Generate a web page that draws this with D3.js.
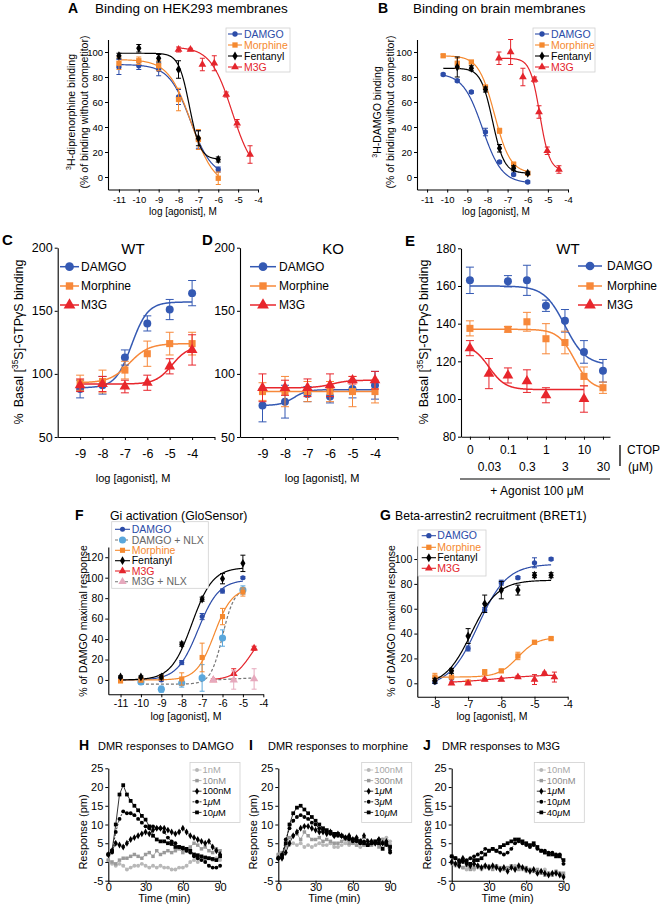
<!DOCTYPE html>
<html>
<head>
<meta charset="utf-8">
<script src="https://cdn.jsdelivr.net/npm/d3@7"></script>
<style>
  body { margin: 0; background: #fff; }
  svg { display: block; font-family: "Liberation Sans", Arial, Helvetica, sans-serif; }
</style>
</head>
<body>
<svg id="fig" width="660" height="906"></svg>
<script>
// colours
const blue = '#2c4ca8', orange = '#f5892f', red = '#e4252c', black = '#000';
const lightBlue = '#5aa7dc', pink = '#e6a9bd', nlxGrey = '#777';

// ---- A: binding on HEK293 membranes ----
const aNames = ['DAMGO', 'Morphine', 'Fentanyl', 'M3G'];
const aX = [[-11, -10, -9, -8, -7, -6], [-11, -10, -9, -8, -7, -6], [-11, -10, -9, -8, -7, -6], [-8, -7.4, -6.8, -6.2, -5.6, -5.05, -4.4]];
const aY = [[88, 89, 86, 64, 30, 6], [91, 93, 89, 62, 30, -1], [97, 103, 95, 86, 31, 14], [102, 102, 90, 91, 66, 43, 18]];
const aErr = [[6, 3, 5, 6, 7, 2], [5, 3, 4, 9, 8, 5], [2, 3, 3, 7, 6, 2], [2, 1, 5, 6, 2, 3, 7]];
// bottom, top, logEC50, hill, from, to
const aFit = [[0, 90, -7.4, -0.8, -11, -6], [-8, 94, -7.35, -0.75, -11, -6], [14, 99, -7.45, -1.6, -11, -6], [0, 104, -5.3, -0.8, -8, -4.4]];

// ---- B: binding on brain membranes ----
const bX = [[-10.2, -9.5, -8.8, -8.1, -7.4, -6.7, -6], [-10.2, -9.5, -8.8, -8.1, -7.4, -6.7, -6], [-9.5, -8.8, -8.1, -7.4, -6.7, -6], [-7.43, -6.85, -6.24, -5.66, -5.44, -5.03, -4.45]];
const bY = [[82, 77, 68, 36, 12, 2, -4], [97, 91, 92, 72, 37, 10, 3], [88, 87, 70, 23, 7, 3], [95, 100, 80, 78, 52, 21, 6]];
const bErr = [[1, 1, 1, 3, 1, 1, 1], [1, 4, 1, 1, 2, 2, 1], [8, 2, 2, 3, 2, 1], [5, 10, 7, 2, 5, 3, 3]];
const bFit = [[-5, 83, -8.25, -0.9, -10.2, -6], [3, 97, -7.65, -1.1, -10.2, -6], [3, 87, -7.75, -1.5, -10.2, -6], [5, 95, -5.4, -1.8, -7.43, -4.45]];

// ---- C / D: [35S]-GTPgS, WT and KO ----
const cdNames = ['DAMGO', 'Morphine', 'M3G'];
const cdDoses = [-9, -8, -7, -6, -5, -4];
const cY = [[88, 91, 113, 140, 151, 164], [93, 94, 103, 116, 124, 124], [91, 92, 90, 93, 106, 119]];
const cErr = [[7, 7, 6, 6, 8, 10], [6, 9, 7, 10, 9, 9], [5, 6, 5, 6, 6, 12]];
const cFit = [[89, 157, -6.7, 1.2, -9, -4], [93, 124, -6.8, 1.0, -9, -4], [92, 122, -4.9, 1.2, -9, -4]];
const dY = [[75, 78, 84, 82, 88, 91], [86, 86, 86, 86, 86, 86], [89, 89, 89, 91, 95, 95]];
const dErr = [[13, 13, 6, 5, 7, 11], [7, 12, 8, 8, 12, 9], [11, 6, 7, 9, 3, 7]];
const dFit = [[75, 87.5, -7.6, 1.5, -9, -4], [86, 86, -6, 1, -9, -4], [89, 95, -5.9, 1.2, -9, -4]];

// ---- E: CTOP reversal (x = index of CTOP concentration) ----
const eCtop = ['0', '0.03', '0.1', '0.3', '1', '3', '10', '30'];
const eX = [[0, 2, 3, 4, 5, 6, 7], [0, 2, 3, 4, 5, 6, 7], [0, 1, 2, 3, 4, 6]];
const eY = [[163, 162.5, 163, 149.5, 141.5, 125, 115], [137.5, 137, 141, 132, 130, 112, 106], [127, 113.5, 112.5, 109.5, 102, 100]];
const eErr = [[7, 3, 8, 3, 6, 6, 6], [4, 1.5, 5, 8, 6, 5, 3], [4, 8, 4, 6, 4, 7]];
const eFit = [[118, 160, 5.0, -0.8, 0, 7], [105, 137, 5.5, -1, 0, 7], [105, 129, 1.0, -1, 0, 6]];

// ---- F: Gi activation (GloSensor) ----
const fNames = ['DAMGO', 'DAMGO + NLX', 'Morphine', 'Fentanyl', 'M3G', 'M3G + NLX'];
const fX = [[-11, -10, -9, -8, -7, -6, -5], [-10, -9, -8, -7, -6, -5], [-11, -10, -9, -8, -7, -6, -5], [-11, -10, -9, -8, -7, -6, -5], [-6.45, -5.45, -4.45], [-6.45, -5.45, -4.45]];
const fY = [[1, -1, 0, 17, 62, 87, 100], [-2, -9, -3, 2, 41, 88], [-1, 0, 2, 1, 22, 62, 86], [3, 3, 3, 35, 79, 99, 114], [0, 6, 31], [0, 0, 1]];
const fErr = [[1, 2, 1, 2, 3, 2, 1], [2, 3, 4, 13, 8, 4], [1, 2, 2, 6, 14, 8, 4], [1, 1, 2, 2, 2, 5, 8], [1, 5, 2], [1, 9, 10]];
const fFit = [[0, 98, -7.2, 0.85, -11, -5], [-4, 90, -6.0, 1.5, -10, -5], [0, 90, -6.4, 1, -11, -5], [0, 110, -7.5, 0.85, -11, -5], [0, 50, -4.6, 1, -6.45, -4.45], [0, 2, -5.5, 1, -6.45, -4.45]];

// ---- G: beta-arrestin2 recruitment (BRET1) ----
const gX = [[-8, -7.5, -7, -6.5, -6, -5.5, -5, -4.5], [-8, -7.5, -7, -6.5, -6, -5.5, -5, -4.5], [-8, -7.5, -7, -6.5, -6, -5.5, -5, -4.5], [-7.5, -7, -6.5, -6, -5.5, -5, -4.7, -4.4]];
const gY = [[1, 4, 28, 59, 81, 85, 97, 100], [5, 5, 1, 9, 10, 22, 33, 36], [2, 10, 38, 64, 75, 75, 87, 87], [0, 0, 3, 3, 5, 3, 8, 5]];
const gErr = [[1, 1, 2, 2, 2, 1, 4, 1], [3, 1, 1, 2, 1, 3, 1, 1], [2, 2, 6, 7, 7, 4, 2, 2], [1, 1, 1, 1, 1, 4, 1, 4]];
const gFit = [[-3, 96, -6.7, 1.0, -8, -4.5], [5, 37, -5.5, 1.5, -8, -4.5], [-2, 83, -6.9, 1.1, -8, -4.5], [0, 7, -6.2, 0.6, -7.5, -4.4]];

// ---- H / I / J: DMR time courses ----
const dmrTime = [0, 3, 6, 9, 12, 15, 18, 21, 24, 27, 30, 33, 36, 39, 42, 45, 48, 51, 54, 57, 60, 63, 66, 69, 72, 75, 78, 81, 84, 87, 90];
const hNames = ['1nM', '10nM', '100nM', '1μM', '10μM'];
const h1nM = [0.5, -0.5, -1, -0.5, -1, -2, -1.5, -1, -1, -0.5, -1, -1.5, -1, -1.5, -1, -1.5, -1.5, -2, -2, -1.5, -1.5, -1, 0, 0.5, 0, 1, 0.5, 1, 0.5, 1, 0.5];
const h10nM = [0.5, 0, -0.5, 0.5, 1, 1, 1.5, 2, 1.5, 1, 2, 2.5, 1.5, 3, 2, 2.5, 3, 2.5, 3, 3.5, 2.5, 3, 4, 5, 4.5, 3.5, 4, 3, 2.5, 3.5, 3];
const h100nM = [2, 3, 5, 4.5, 4, 5, 6, 6.5, 7, 7.5, 8, 7.5, 8.5, 9, 9, 9, 8.5, 8, 7.5, 8, 9, 8, 7, 6.5, 6, 5.5, 5, 5.5, 4, 3, 2];
const h1uM = [2, 2.5, 8, 11.5, 13.5, 13, 13, 12.5, 11.5, 10.5, 9.5, 9, 9.5, 9, 9, 8, 6.5, 5.5, 5, 4, 3.5, 3, 2.5, 1.5, 1, 0.5, 0, -1, -1.5, -1.5, -1];
const h10uM = [2, 3, 10, 18, 20.5, 18, 16.3, 15, 13.8, 12.3, 11.3, 9.5, 7, 6, 5.5, 5.5, 5, 4.8, 4, 4, 3.8, 3.5, 3, 2, 1.8, 1.5, 1.2, 1, 0.8, 0.5, 1.5];
const iNames = ['100nM', '300nM', '1μM', '3μM', '10μM'];
const i100nM = [2, 2, 4, 4.5, 5, 4.5, 5, 4, 4.5, 4, 4.5, 5, 4.5, 4.5, 5, 4, 4, 4.5, 5, 4.5, 5, 4.5, 4, 4.5, 5, 4.5, 5, 5.5, 6, 6.5, 5.5];
const i300nM = [2, 2.5, 4.5, 6.5, 7, 7.5, 6, 8, 7, 6, 6, 6.5, 5.5, 6, 5.5, 5, 5, 5.5, 6, 5, 5, 4.5, 5, 4.5, 5, 4.5, 5.5, 4, 6, 5, 4.5];
const i1uM = [1, 1, 2.5, 5, 7, 8, 9, 9.5, 9.5, 9, 8.5, 8, 8, 7.5, 8, 7, 7.5, 7, 6.5, 7, 6, 6.5, 5.5, 7, 5.5, 5.5, 5, 6, 5, 5.5, 3];
const i3uM = [1, 2, 6, 9, 11, 12, 12.5, 12, 11.5, 10.5, 10, 9, 8.5, 8, 7.5, 7, 7, 7, 6.5, 6, 5.5, 5.5, 5, 5.5, 4.5, 5, 5, 6, 5, 4.5, 2.5];
const i10uM = [1, 1.5, 5, 10, 13, 14.5, 15, 14, 13, 12, 11, 10, 9, 8.5, 8, 7.5, 7.5, 7, 6.5, 6.5, 6, 6, 5.5, 5, 4.5, 5, 5.5, 5, 3.5, 5, 4];
const jNames = ['10nM', '100nM', '1μM', '10μM', '40μM'];
const j10nM = [-0.5, -1, -1, -1.5, -2, -1.5, -2, -1.5, -2, -1.5, -1, -1.5, -1, -2, -1.5, -2, -1.5, -1, -1.5, -2, -2.5, -2, -2.5, -3, -2.5, -2, -3, -3.5, -2.5, -3, -3.5];
const j100nM = [0, -0.5, -1, -1.5, -1, -2, -1.5, -1, -1.5, -1, -1.5, -2, -1, -1.5, -2, -1.5, -1, -1.5, -2, -1.5, -1.5, -2, -2.5, -2, -3, -3.5, -3, -3.5, -2.5, -3, -3];
const j1uM = [0, -0.5, -1, 1, -0.5, -1, -0.5, -1, -1.5, -1, -1.5, -1, -1.5, -2, -1.5, -2.5, -1.5, -2, -1, -1.5, -2, -2.5, -2, -3, -2.5, -3, -3.5, -3, -3, -3.5, -4];
const j10uM = [1.5, 1, 0.5, 0, 0.5, 1, 1.5, 2, 2.5, 3.5, 3, 3.5, 3, 2.5, 2, 2.5, 3.5, 5, 5.5, 5, 4.5, 4, 4.5, 3.5, 3, 3, 2.5, 2.5, 2, 2, -0.5];
const j40uM = [1.5, 1, 0, 0.5, 0, -0.5, 0.5, 0.5, 1, 2, 3, 3.5, 3, 4, 4.5, 5, 5.5, 6, 6, 5.5, 5, 4.5, 5, 4, 3, 2.5, 2, 2, 1.5, 1.5, 0.5];

const svg = d3.select('#fig');
const symType = { circle: d3.symbolCircle, square: d3.symbolSquare, diamond: d3.symbolDiamond, triangle: d3.symbolTriangle };

function logistic(p, x) {
  return p[0] + (p[1] - p[0]) / (1 + Math.pow(10, (p[2] - x) * p[3]));
}

function txt(x, y, s, o = {}) {
  const t = svg.append('text').attr('x', x).attr('y', y)
    .attr('font-size', o.fs || 11).attr('fill', o.fill || '#000')
    .attr('text-anchor', o.anchor || 'start');
  if (o.bold) t.attr('font-weight', 'bold');
  if (o.rot) t.attr('transform', `rotate(-90,${x},${y})`);
  if (s) t.text(s);
  return t;
}

function axes(x, y, o) {
  const gx = svg.append('g').attr('transform', `translate(0,${y.range()[0]})`)
    .call(d3.axisBottom(x).tickValues(o.xt).tickFormat(o.xf || String)
      .tickSize(3).tickSizeOuter(0).tickPadding(o.xp ?? 3));
  const gy = svg.append('g').attr('transform', `translate(${x.range()[0]},0)`)
    .call(d3.axisLeft(y).tickValues(o.yt).tickFormat(String)
      .tickSize(3).tickSizeOuter(0).tickPadding(2));
  for (const g of [gx, gy]) {
    g.attr('font-family', null).attr('font-size', o.fs);
    g.select('.domain').attr('stroke-width', 1.1);
  }
  return gx;
}

function doses(x, y, o) {
  o.fits.forEach((p, i) => {
    const xs = d3.range(p[4], p[5], 0.02).concat([p[5]]);
    svg.append('path').datum(xs)
      .attr('fill', 'none').attr('stroke', o.fitCol ? o.fitCol[i] : o.col[i])
      .attr('stroke-width', o.lw)
      .attr('stroke-dasharray', o.dash && o.dash[i] ? o.dash[i] : null)
      .attr('d', d3.line().x(v => x(v)).y(v => y(logistic(p, v))));
  });
  o.xs.forEach((xsI, i) => {
    const g = svg.append('g').attr('stroke', o.col[i]);
    xsI.forEach((xv, j) => {
      const cx = x(xv), m = o.ys[i][j], e = o.err[i][j], c = o.cap;
      const t = y(m + e), b = y(m - e);
      g.append('path').attr('fill', 'none').attr('stroke-width', 1)
        .attr('d', `M${cx},${t}V${b}M${cx - c},${t}H${cx + c}M${cx - c},${b}H${cx + c}`);
    });
    g.selectAll('.pt').data(xsI).join('path').attr('class', 'pt')
      .attr('stroke', 'none').attr('fill', o.col[i])
      .attr('transform', (d, j) => `translate(${x(d)},${y(o.ys[i][j])})`)
      .attr('d', d3.symbol(symType[o.shape[i]], o.size[i]));
  });
}

function legend(o) {
  if (o.box) {
    svg.append('rect').attr('x', o.box[0]).attr('y', o.box[1])
      .attr('width', o.box[2]).attr('height', o.box[3])
      .attr('fill', '#fff').attr('stroke', '#d0d0d0').attr('stroke-width', 0.8);
  }
  o.names.forEach((n, i) => {
    const yy = o.ys[i];
    svg.append('line').attr('x1', o.x0).attr('x2', o.x1).attr('y1', yy).attr('y2', yy)
      .attr('stroke', o.lineCol[i]).attr('stroke-width', o.lw)
      .attr('stroke-dasharray', o.dash && o.dash[i] ? o.dash[i] : null);
    svg.append('path').attr('transform', `translate(${(o.x0 + o.x1) / 2},${yy})`)
      .attr('d', d3.symbol(symType[o.shape[i]], o.size[i])).attr('fill', o.col[i]);
    const t = svg.append('text').attr('x', o.xt).attr('y', yy).attr('dy', '0.35em')
      .attr('font-size', o.fs).attr('fill', o.txtCol[i]);
    n.split('μ').forEach((part, k) => {
      if (k) t.append('tspan').attr('font-style', 'italic').text('μ');
      t.append('tspan').text(part);
    });
  });
}

function gtpLabel(x, y) {
  const t = txt(x, y, null, { fs: 12.5, anchor: 'middle', rot: true });
  t.append('tspan').text('%');
  t.append('tspan').attr('dx', 6).text('Basal [');
  t.append('tspan').attr('font-size', 8.5).attr('dy', -5).text('35');
  t.append('tspan').attr('dy', 5).text('S]-GTPγS binding');
}

const dr4Col = [blue, orange, black, red];
const dr4Shape = ['circle', 'square', 'diamond', 'triangle'];
const dr4Size = [22, 28, 24, 26];

// ================= A =================
const xA = d3.scaleLinear().domain([-11.55, -4]).range([108, 258]);
const yA = d3.scaleLinear().domain([-10, 110]).range([189.5, 39.5]);
axes(xA, yA, { xt: [-11, -10, -9, -8, -7, -6, -5, -4], yt: [0, 20, 40, 60, 80, 100], fs: 9.5, xp: 4 });
doses(xA, yA, { xs: aX, ys: aY, err: aErr, fits: aFit, col: dr4Col, shape: dr4Shape, size: dr4Size, lw: 1.2, cap: 2.5 });
legend({ box: [226, 28, 64, 44], names: aNames, ys: [34, 45, 56, 67], x0: 228, x1: 242, xt: 244, fs: 10.5,
  lineCol: dr4Col, col: dr4Col, txtCol: dr4Col, shape: dr4Shape, size: dr4Size, lw: 1.1 });
txt(68, 13, 'A', { fs: 14, bold: true });
txt(95, 13, 'Binding on HEK293 membranes', { fs: 13.5 });
txt(183, 215, 'log [agonist], M', { fs: 10, anchor: 'middle' });
{
  const t = txt(75, 112, null, { fs: 10.5, anchor: 'middle', rot: true });
  t.append('tspan').attr('font-size', 7).attr('dy', -4).text('3');
  t.append('tspan').attr('dy', 4).text('H-diprenorphine binding');
  txt(88, 112, '(% of binding without competitor)', { fs: 10.5, anchor: 'middle', rot: true });
}

// ================= B =================
const xB = d3.scaleLinear().domain([-11.5, -4]).range([417, 568]);
const yB = d3.scaleLinear().domain([-10, 110]).range([189.5, 39.5]);
axes(xB, yB, { xt: [-11, -10, -9, -8, -7, -6, -5, -4], yt: [0, 20, 40, 60, 80, 100], fs: 9.5, xp: 4 });
doses(xB, yB, { xs: bX, ys: bY, err: bErr, fits: bFit, col: dr4Col, shape: dr4Shape, size: dr4Size, lw: 1.2, cap: 2.5 });
legend({ box: [533, 28, 62, 44], names: aNames, ys: [34, 45, 56, 67], x0: 535, x1: 549, xt: 551, fs: 10.5,
  lineCol: dr4Col, col: dr4Col, txtCol: dr4Col, shape: dr4Shape, size: dr4Size, lw: 1.1 });
txt(378, 13, 'B', { fs: 14, bold: true });
txt(413, 13, 'Binding on brain membranes', { fs: 13.5 });
txt(496, 215, 'log [agonist], M', { fs: 10, anchor: 'middle' });
{
  const t = txt(381, 112, null, { fs: 10.5, anchor: 'middle', rot: true });
  t.append('tspan').attr('font-size', 7).attr('dy', -4).text('3');
  t.append('tspan').attr('dy', 4).text('H-DAMGO binding');
  txt(394, 112, '(% of binding without competitor)', { fs: 10.5, anchor: 'middle', rot: true });
}

// ================= C / D =================
const cdCol = ['#3459b3', '#f7883a', '#e8262c'];
const cdShape = ['circle', 'square', 'triangle'];
const cdSize = [50, 50, 50];
const cdTicks = [-9, -8, -7, -6, -5, -4, -3];
const cdFmt = d => (d === -3 ? '' : String(d));

const xC = d3.scaleLinear().domain([-10, -3]).range([57.7, 214.5]);
const yC = d3.scaleLinear().domain([50, 200]).range([437, 247.7]);
axes(xC, yC, { xt: cdTicks, xf: cdFmt, yt: [50, 100, 150, 200], fs: 12.5, xp: 9 });
doses(xC, yC, { xs: cdNames.map(() => cdDoses), ys: cY, err: cErr, fits: cFit, col: cdCol, shape: cdShape, size: cdSize, lw: 1.5, cap: 4 });
legend({ names: cdNames, ys: [266.7, 286, 305], x0: 60, x1: 79, xt: 81, fs: 12,
  lineCol: cdCol, col: cdCol, txtCol: [black, black, black], shape: cdShape, size: [60, 55, 60], lw: 1.5 });
txt(2, 245, 'C', { fs: 15, bold: true });
txt(133, 254, 'WT', { fs: 15, anchor: 'middle' });
txt(133, 482, 'log [agonist], M', { fs: 11, anchor: 'middle' });
gtpLabel(23, 342);

const xD = d3.scaleLinear().domain([-10, -3]).range([240, 397.5]);
const yD = d3.scaleLinear().domain([50, 200]).range([437, 247.7]);
axes(xD, yD, { xt: cdTicks, xf: cdFmt, yt: [50, 100, 150, 200], fs: 12.5, xp: 9 });
doses(xD, yD, { xs: cdNames.map(() => cdDoses), ys: dY, err: dErr, fits: dFit, col: cdCol, shape: cdShape, size: cdSize, lw: 1.5, cap: 4 });
legend({ names: cdNames, ys: [266.7, 286, 305], x0: 250, x1: 276, xt: 279, fs: 12,
  lineCol: cdCol, col: cdCol, txtCol: [black, black, black], shape: cdShape, size: [60, 55, 60], lw: 1.5 });
txt(202, 245, 'D', { fs: 15, bold: true });
txt(333, 254, 'KO', { fs: 15, anchor: 'middle' });
txt(322, 482, 'log [agonist], M', { fs: 11, anchor: 'middle' });

// ================= E =================
const xE = d3.scaleLinear().domain([-0.47, 7.37]).range([461, 610]);
const yE = d3.scaleLinear().domain([80, 180]).range([436.7, 248.3]);
const gxE = axes(xE, yE, { xt: d3.range(eCtop.length), xf: i => eCtop[i], yt: [80, 100, 120, 140, 160, 180], fs: 12, xp: 6 });
gxE.selectAll('.tick text').attr('y', (d, i) => (i % 2 ? 26 : 9));
doses(xE, yE, { xs: eX, ys: eY, err: eErr, fits: eFit, col: cdCol, shape: cdShape, size: cdSize, lw: 1.5, cap: 4 });
legend({ names: cdNames, ys: [266, 286, 305], x0: 578, x1: 602, xt: 607, fs: 12,
  lineCol: cdCol, col: cdCol, txtCol: [black, black, black], shape: cdShape, size: [60, 55, 60], lw: 1.5 });
txt(405, 246, 'E', { fs: 15, bold: true });
txt(568, 254, 'WT', { fs: 15, anchor: 'middle' });
gtpLabel(428, 342);
svg.append('line').attr('x1', 620).attr('x2', 620).attr('y1', 445).attr('y2', 466).attr('stroke', '#000').attr('stroke-width', 1.3);
txt(627, 454, 'CTOP', { fs: 12 });
txt(628, 471, '(μM)', { fs: 12 });
svg.append('line').attr('x1', 460).attr('x2', 610).attr('y1', 479).attr('y2', 479).attr('stroke', '#000').attr('stroke-width', 1.2);
txt(537, 495, '+ Agonist 100 μM', { fs: 12, anchor: 'middle' });

// ================= F =================
const fCol = [blue, lightBlue, orange, black, red, pink];
const fShape = ['circle', 'circle', 'square', 'diamond', 'triangle', 'triangle'];
const fSize = [20, 40, 26, 22, 26, 30];
const fFitCol = [blue, nlxGrey, orange, black, red, nlxGrey];
const fDash = [null, '3,2', null, null, null, '3,2'];
const xF = d3.scaleLinear().domain([-11.6, -4]).range([108.3, 263.3]);
const yF = d3.scaleLinear().domain([-14, 130]).range([694.3, 547]);
axes(xF, yF, { xt: [-11, -10, -9, -8, -7, -6, -5, -4], yt: [0, 20, 40, 60, 80, 100, 120], fs: 10.5, xp: 2 });
doses(xF, yF, { xs: fX, ys: fY, err: fErr, fits: fFit, col: fCol, fitCol: fFitCol, dash: fDash, shape: fShape, size: fSize, lw: 1.2, cap: 2.5 });
legend({ box: [111.7, 521.7, 96.6, 66.6], names: fNames, ys: [529.3, 540, 550.3, 560.7, 571, 581.7], x0: 115, x1: 130, xt: 131.7, fs: 10.5,
  lineCol: fFitCol, dash: fDash, col: fCol, txtCol: [blue, '#666', orange, black, red, '#666'], shape: fShape, size: fSize, lw: 1.1 });
txt(75, 520, 'F', { fs: 14, bold: true });
txt(110, 520, 'Gi activation (GloSensor)', { fs: 12.3 });
txt(186, 720, 'log [agonist], M', { fs: 10.5, anchor: 'middle' });
txt(87, 621, '% of DAMGO maximal response', { fs: 10.5, anchor: 'middle', rot: true });

// ================= G =================
const xG = d3.scaleLinear().domain([-8.53, -4]).range([417.3, 567.7]);
const yG = d3.scaleLinear().domain([-10.8, 110.5]).range([696.7, 546]);
axes(xG, yG, { xt: [-8, -7, -6, -5, -4], yt: [0, 20, 40, 60, 80, 100], fs: 10.5, xp: 1 });
doses(xG, yG, { xs: gX, ys: gY, err: gErr, fits: gFit, col: dr4Col, shape: dr4Shape, size: dr4Size, lw: 1.2, cap: 2.5 });
legend({ box: [418, 530, 68, 46], names: ['DAMGO', 'Morphine', 'Fentanyl', 'M3G'], ys: [535.7, 547.3, 557.7, 568.3], x0: 421.7, x1: 436, xt: 437.3, fs: 10.5,
  lineCol: dr4Col, col: dr4Col, txtCol: dr4Col, shape: dr4Shape, size: dr4Size, lw: 1.1 });
txt(380, 520, 'G', { fs: 14, bold: true });
txt(395, 520, 'Beta-arrestin2 recruitment (BRET1)', { fs: 12.2 });
txt(492, 720, 'log [agonist], M', { fs: 10.5, anchor: 'middle' });
txt(395, 621, '% of DAMGO maximal response', { fs: 10.5, anchor: 'middle', rot: true });

// ================= H / I / J =================
const dmrCol = ['#b8b8b8', '#9a9a9a', black, black, black];
const dmrTxtCol = ['#a8a8a8', '#8c8c8c', black, black, black];
const dmrShape = ['circle', 'square', 'diamond', 'circle', 'square'];
const dmrSize = [12, 12, 14, 12, 14];
const dmrDash = [null, null, null, '2,1.5', null];

function dmr(x0, title, letter, lx, names, series, legendX) {
  const x = d3.scaleLinear().domain([0, 90]).range([x0, x0 + 111.8]);
  const y = d3.scaleLinear().domain([-5, 25]).range([880.7, 768.3]);
  axes(x, y, { xt: [0, 30, 60, 90], yt: [-5, 0, 5, 10, 15, 20, 25], fs: 11, xp: 0 });
  series.forEach((vals, i) => {
    const pts = dmrTime.map((t, j) => [t, vals[j]]);
    svg.append('path').datum(pts).attr('fill', 'none')
      .attr('stroke', dmrCol[i]).attr('stroke-width', 0.8)
      .attr('stroke-dasharray', dmrDash[i])
      .attr('d', d3.line().x(d => x(d[0])).y(d => y(d[1])));
    svg.append('g').selectAll('path').data(pts).join('path')
      .attr('transform', d => `translate(${x(d[0])},${y(d[1])})`)
      .attr('d', d3.symbol(symType[dmrShape[i]], dmrSize[i])).attr('fill', dmrCol[i]);
  });
  legend({ box: [legendX, 762.5, 50, 60], names, ys: [770, 780.6, 791.2, 801.8, 812.4],
    x0: legendX + 2.5, x1: legendX + 11.5, xt: legendX + 12.5, fs: 9.4,
    lineCol: dmrCol, dash: dmrDash, col: dmrCol, txtCol: dmrTxtCol, shape: dmrShape, size: dmrSize, lw: 0.8 });
  txt(lx, 750, letter, { fs: 14, bold: true });
  txt(lx + 19, 750, title, { fs: 11 });
  txt(x0 + 56, 902, 'Time (min)', { fs: 11, anchor: 'middle' });
  txt(x0 - 21, 832, 'Response (pm)', { fs: 11, anchor: 'middle', rot: true });
}

dmr(108.3, 'DMR responses to DAMGO', 'H', 79, hNames, [h1nM, h10nM, h100nM, h1uM, h10uM], 190);
dmr(278.3, 'DMR responses to morphine', 'I', 249, iNames, [i100nM, i300nM, i1uM, i3uM, i10uM], 361.7);
dmr(451.7, 'DMR responses to M3G', 'J', 423, jNames, [j10nM, j100nM, j1uM, j10uM, j40uM], 534.3);
</script>
</body>
</html>
